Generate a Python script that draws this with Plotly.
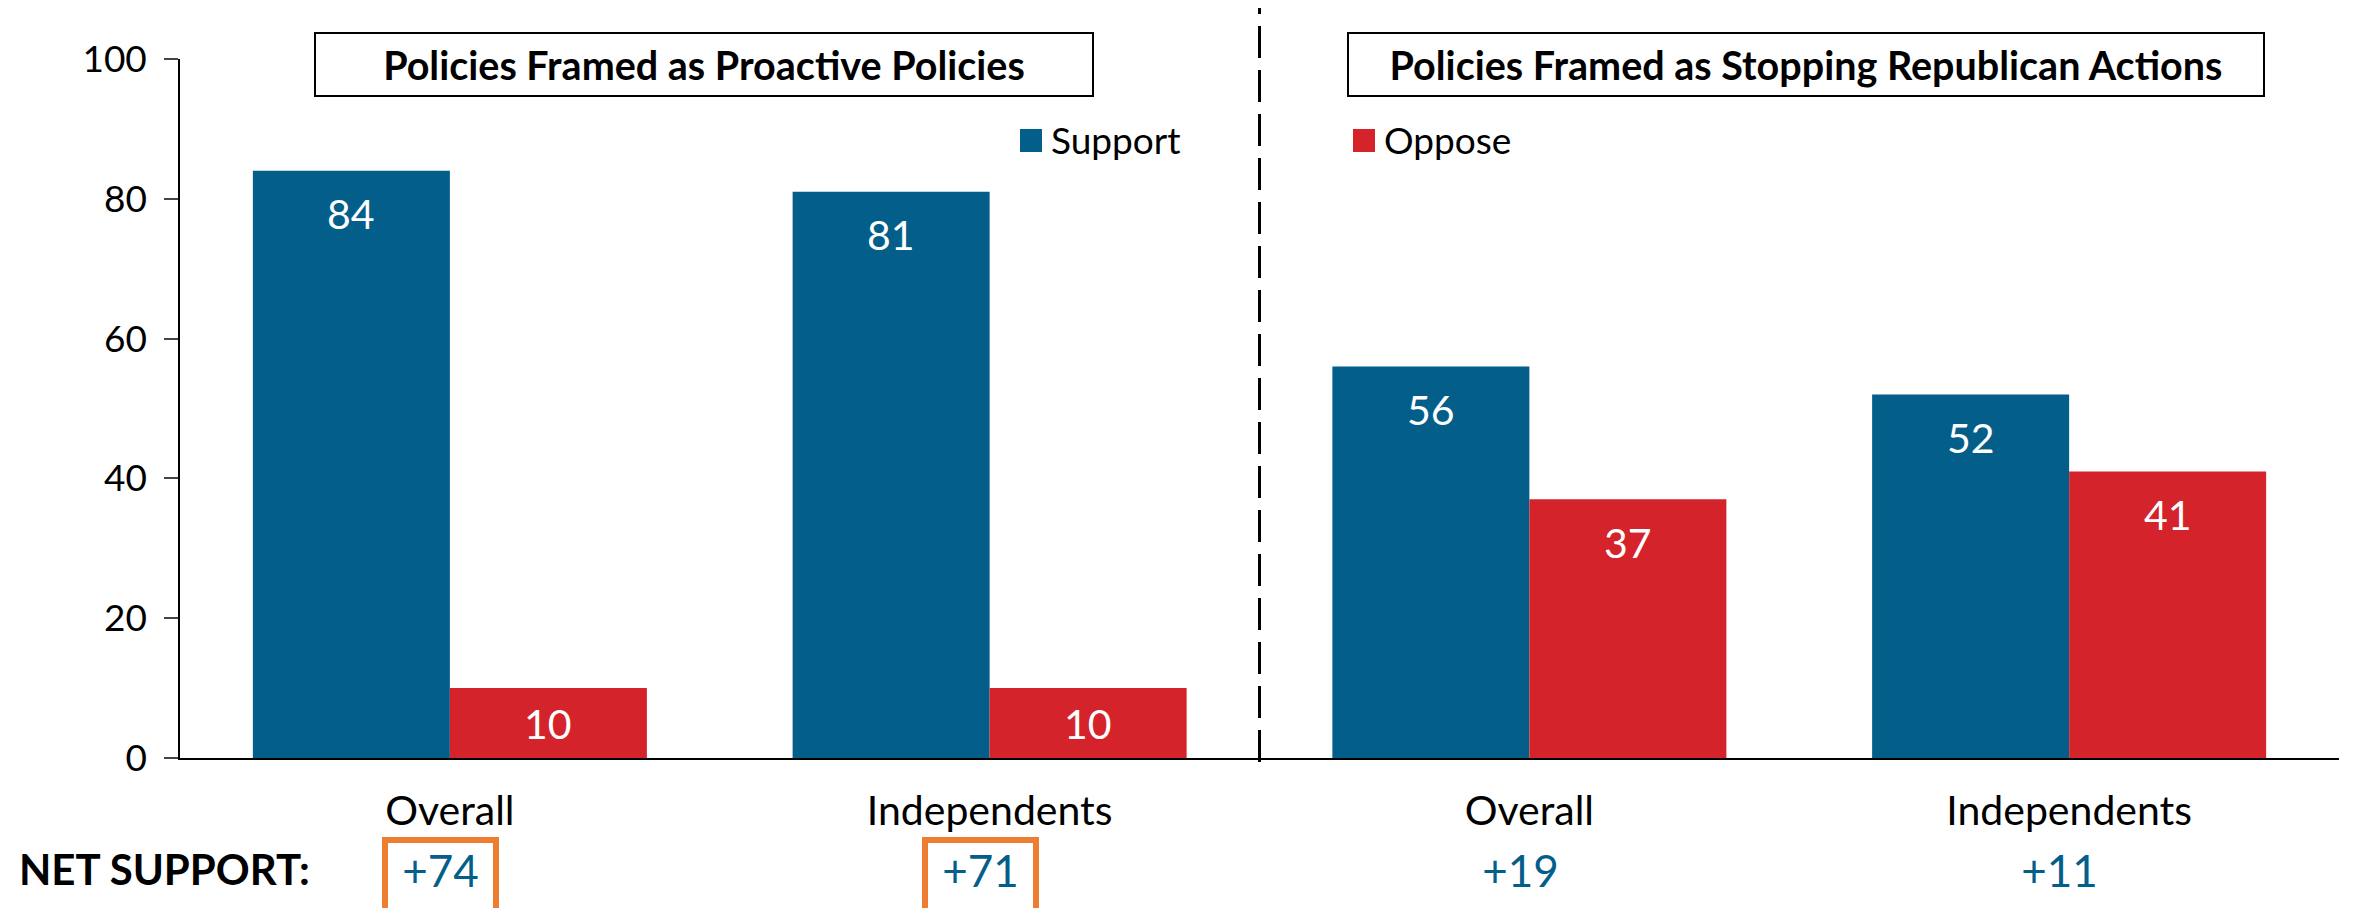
import plotly.graph_objects as go

categories = ["Overall", "Independents", "Overall", "Independents"]
support = [84, 81, 56, 52]
oppose = [10, 10, 37, 41]
net_support = ["+74", "+71", "+19", "+11"]
net_boxed = [True, True, False, False]
y_ticks = [0, 20, 40, 60, 80, 100]
section_titles = ["Policies Framed as Proactive Policies", "Policies Framed as Stopping Republican Actions"]

BLUE = "#045E8A"
RED = "#D4232B"
ORANGE = "#ED7D31"
FONT = "Lato"

# the page body adds an 8px offset; reference pixel coordinates below are page coords
OFF = 8
PAGE_W, PAGE_H = 2354, 908
W, H = PAGE_W - OFF, PAGE_H - OFF
PLOT_L, PLOT_R, PLOT_T, PLOT_B = 180, 2339, 59, 758
L = PLOT_L - OFF
T = PLOT_T - OFF
R = PAGE_W - PLOT_R
B = PAGE_H - PLOT_B
PW = PLOT_R - PLOT_L
PH = PLOT_B - PLOT_T

def px_x(p):
    return (p - PLOT_L) / PW

def px_y(p):
    return (PLOT_B - p) / PH

xs = list(range(len(categories)))
bargap = 0.27
bw = (1 - bargap) / 2

fig = go.Figure()
fig.add_trace(go.Bar(x=xs, y=support, name="Support", marker=dict(color=BLUE, line=dict(width=0))))
fig.add_trace(go.Bar(x=xs, y=oppose, name="Oppose", marker=dict(color=RED, line=dict(width=0))))

annotations = []
# data labels inside bars
for i, (s, o) in enumerate(zip(support, oppose)):
    for val, off in ((s, -bw / 2), (o, bw / 2)):
        annotations.append(dict(
            x=i + off, y=max(val - 6.1, val / 2), xref="x", yref="y",
            text=str(val), showarrow=False, yanchor="middle", xanchor="center",
            font=dict(family=FONT, size=41, color="white")))

# net support row
net_y = px_y(837)
annotations.append(dict(
    x=px_x(12), y=net_y, xref="paper", yref="paper", text="<b>NET SUPPORT:</b>",
    showarrow=False, xanchor="left", yanchor="top", valign="top", height=62,
    borderwidth=6, borderpad=1, bordercolor="rgba(0,0,0,0)",
    font=dict(family=FONT, size=42, color="black")))
for i, (txt, boxed) in enumerate(zip(net_support, net_boxed)):
    annotations.append(dict(
        x=i - 0.017, y=net_y, xref="x", yref="paper", text=txt,
        showarrow=False, xanchor="center", yanchor="top", valign="top",
        width=103, height=68, borderwidth=6, borderpad=1,
        bordercolor=ORANGE if boxed else "rgba(0,0,0,0)",
        font=dict(family=FONT, size=44, color=BLUE)))

# section title boxes
for title, (x0, x1) in zip(section_titles, [(314, 1094), (1347, 2265)]):
    annotations.append(dict(
        x=px_x((x0 + x1) / 2), y=px_y(64.5), xref="paper", yref="paper",
        text="<b>" + title + "</b>", showarrow=False, xanchor="center", yanchor="middle",
        width=(x1 - x0) - 4, height=61, borderwidth=2, borderpad=0, bordercolor="black",
        bgcolor="white", font=dict(family=FONT, size=39.5, color="black")))

# legend (manual)
shapes = []
for name, color, sx in (("Support", BLUE, 1020), ("Oppose", RED, 1353)):
    shapes.append(dict(type="rect", xref="paper", yref="paper",
                       x0=px_x(sx), x1=px_x(sx + 22), y0=px_y(152), y1=px_y(129),
                       fillcolor=color, line=dict(width=0)))
    annotations.append(dict(x=px_x(sx + 29), y=px_y(139), xref="paper", yref="paper",
                            text=name, showarrow=False, xanchor="left", yanchor="middle",
                            font=dict(family=FONT, size=37, color="black")))

# dashed separator between sections
shapes.append(dict(type="line", xref="x", yref="paper", x0=1.5, x1=1.5,
                   y0=px_y(762), y1=px_y(8), line=dict(color="black", width=3, dash="32px,12px")))

fig.update_layout(
    width=W, height=H,
    margin=dict(l=L, r=R, t=T, b=B, autoexpand=False),
    paper_bgcolor="white", plot_bgcolor="white",
    barmode="group", bargap=bargap, bargroupgap=0,
    showlegend=False,
    annotations=annotations, shapes=shapes,
    font=dict(family=FONT, color="black"),
    xaxis=dict(range=[-0.5, 3.5], tickmode="array", tickvals=xs, ticktext=categories,
               showline=True, linecolor="black", linewidth=2, ticks="", showgrid=False,
               zeroline=False, tickfont=dict(family=FONT, size=41, color="black"),
               ticklabelstandoff=16, fixedrange=True, automargin=False),
    yaxis=dict(range=[0, 100], tickmode="array", tickvals=y_ticks,
               showline=True, linecolor="black", linewidth=1.5, ticks="outside",
               ticklen=14, tickcolor="#444", tickwidth=1.5, showgrid=False, zeroline=False,
               tickfont=dict(family=FONT, size=37, color="black"), ticklabelstandoff=10,
               fixedrange=True, automargin=False),
)

fig.write_html("out.html")
